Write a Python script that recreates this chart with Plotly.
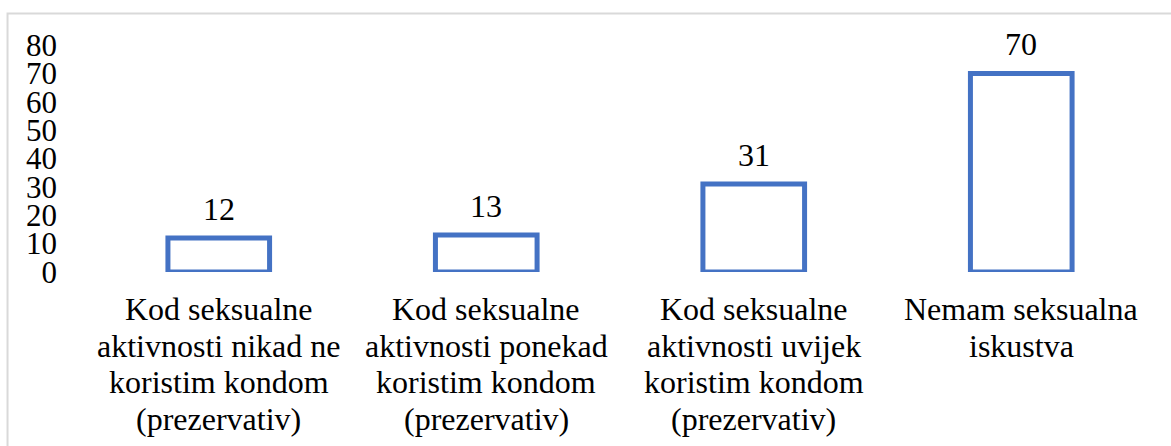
import plotly.graph_objects as go

categories = [
    "Kod seksualne<br>aktivnosti nikad ne<br>koristim kondom<br>(prezervativ)",
    "Kod seksualne<br>aktivnosti ponekad<br>koristim kondom<br>(prezervativ)",
    "Kod seksualne<br>aktivnosti uvijek<br>koristim kondom<br>(prezervativ)",
    "Nemam seksualna<br>iskustva",
]
values = [12, 13, 31, 70]
y_ticks = [0, 10, 20, 30, 40, 50, 60, 70, 80]

FONT = "Liberation Serif"

fig = go.Figure(
    go.Bar(
        x=categories,
        y=values,
        width=0.38,
        marker=dict(color="white", line=dict(color="#4472C4", width=5)),
        cliponaxis=False,
        hoverinfo="skip",
    )
)

annotations = []
# value labels above bars
for cat, v in zip(categories, values):
    annotations.append(dict(
        x=cat, y=v, xref="x", yref="y", text=str(v), showarrow=False,
        yanchor="middle", yshift=29,
        font=dict(family=FONT, size=32, color="black"),
    ))
# category labels, one line each (Word-style tighter line spacing)
LINE_PITCH = 36.7
for cat in categories:
    for j, line in enumerate(cat.split("<br>")):
        annotations.append(dict(
            x=cat, y=0, xref="x", yref="y", text=line, showarrow=False,
            yanchor="middle", yshift=-37 - j * LINE_PITCH,
            font=dict(family=FONT, size=32, color="black"),
        ))

fig.update_layout(
    width=1171,
    height=446,
    margin=dict(l=85, r=16, t=45, b=174, autoexpand=False),
    paper_bgcolor="white",
    plot_bgcolor="white",
    showlegend=False,
    xaxis=dict(
        showgrid=False, zeroline=False, showline=False, ticks="",
        showticklabels=False, automargin=False,
    ),
    yaxis=dict(
        range=[0, 80], tickvals=y_ticks, showgrid=False, zeroline=False,
        showline=False, ticks="", ticklabelstandoff=27, automargin=False,
        tickfont=dict(family=FONT, size=31, color="black"),
    ),
    annotations=annotations,
    shapes=[
        dict(type="rect", xref="paper", yref="paper",
             x0=-0.0724, x1=1.2, y0=-1.0, y1=1.1388,
             line=dict(color="#d9d9d9", width=2), fillcolor="rgba(0,0,0,0)",
             layer="below"),
    ],
)

fig.write_html(
    "out.html",
    config={"displayModeBar": False},
    post_script="document.body.style.margin='0';",
)
